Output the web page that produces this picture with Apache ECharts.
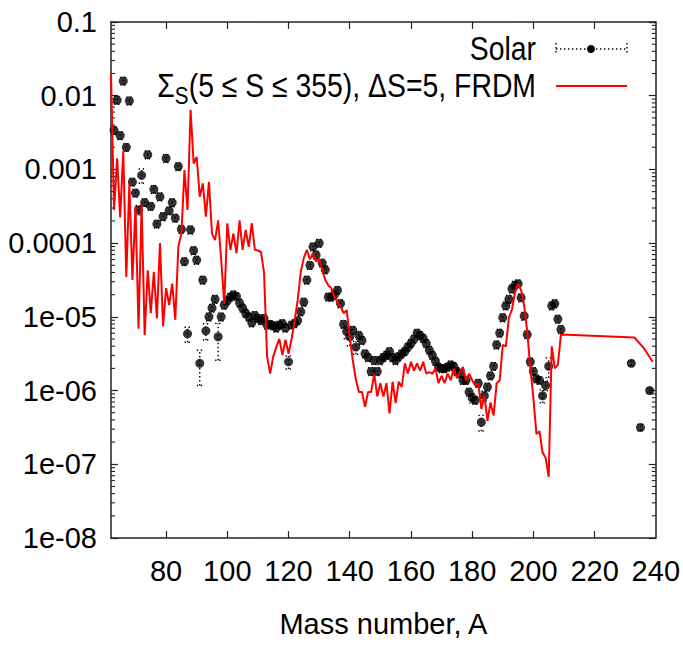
<!DOCTYPE html>
<html>
<head>
<meta charset="utf-8">
<script src="https://cdn.jsdelivr.net/npm/echarts@6/dist/echarts.min.js"></script>
<style>
  html, body { margin: 0; padding: 0; background: #fff; }
  #chart { width: 683px; height: 648px; }
</style>
</head>
<body>
<div id="chart"></div>
<script>
// ---- Solar r-process abundances: mass number, log10(Y), relative error ----
const solarA = [
  63,64,65,66,67,68,69,70,71,72,
  73,74,75,76,77,78,79,80,81,82,
  83,84,85,86,87,88,89,90,91,92,
  93,94,95,96,97,98,99,100,101,102,
  103,104,105,106,107,108,109,110,111,112,
  113,114,115,116,117,118,119,120,121,122,
  123,124,125,126,127,128,129,130,131,132,
  133,134,135,136,137,138,139,140,141,142,
  143,144,145,146,147,148,149,150,151,152,
  153,154,155,156,157,158,159,160,161,162,
  163,164,165,166,167,168,169,170,171,172,
  173,174,175,176,177,178,179,180,181,182,
  183,184,185,186,187,188,189,190,191,192,
  193,194,195,196,197,198,199,200,201,202,
  203,204,205,206,207,208,209,
  232,235,238
];
const solarLog = [
  -2.47,-2.06,-2.54,-1.80,-2.70,-2.07,-3.17,-3.32,-3.55,-3.08,
  -3.45,-2.80,-3.50,-3.27,-3.74,-3.37,-3.64,-2.85,-3.56,-3.45,
  -3.66,-2.96,-3.81,-4.25,-5.23,-3.82,-4.10,-4.23,-5.63,-4.50,
  -5.19,-5.00,-4.88,-4.76,-5.27,-5.00,-4.84,-4.78,-4.73,-4.70,
  -4.72,-4.81,-4.88,-4.95,-5.00,-5.08,-4.98,-5.02,-5.05,-5.02,
  -5.11,-5.10,-5.12,-5.15,-5.11,-5.09,-5.15,-5.61,-5.11,-5.09,
  -5.05,-4.93,-4.80,-4.50,-4.30,-4.05,-4.16,-4.00,-4.27,-4.36,
  -4.73,-4.73,-4.70,-4.64,-4.82,-5.10,-5.20,-5.27,-5.18,-5.41,
  -5.25,-5.32,-5.50,-5.55,-5.74,-5.59,-5.74,-5.59,-5.55,-5.52,
  -5.47,-5.55,-5.59,-5.54,-5.50,-5.47,-5.41,-5.36,-5.30,-5.22,
  -5.25,-5.29,-5.36,-5.45,-5.52,-5.60,-5.68,-5.70,-5.70,-5.68,
  -5.65,-5.67,-5.74,-5.77,-5.86,-5.86,-6.02,-6.10,-6.13,-5.90,
  -6.43,-6.07,-5.95,-5.80,-5.67,-5.38,-5.22,-5.01,-4.85,-4.76,
  -4.62,-4.57,-4.55,-4.74,-4.99,-5.24,-5.61,-5.74,-5.84,-5.86,
  -6.07,-5.93,-5.67,-4.85,-4.82,-5.03,-5.17,
  -5.63,-6.50,-6.00
];
const solarErr = [
  0.12,0.12,0.12,0.12,0.12,0.12,0.12,0.12,0.15,0.22,
  0.12,0.12,0.12,0.12,0.12,0.12,0.12,0.12,0.12,0.12,
  0.12,0.12,0.12,0.12,0.23,0.12,0.12,0.12,0.50,0.12,
  0.25,0.12,0.12,0.12,0.52,0.12,0.12,0.12,0.12,0.12,
  0.12,0.12,0.12,0.12,0.12,0.12,0.12,0.12,0.12,0.12,
  0.12,0.12,0.12,0.12,0.12,0.12,0.12,0.20,0.12,0.12,
  0.12,0.12,0.12,0.12,0.12,0.12,0.12,0.12,0.12,0.12,
  0.12,0.12,0.12,0.12,0.12,0.12,0.20,0.25,0.12,0.20,
  0.12,0.12,0.12,0.12,0.12,0.12,0.12,0.12,0.12,0.12,
  0.12,0.12,0.12,0.12,0.12,0.12,0.12,0.12,0.12,0.12,
  0.12,0.12,0.12,0.12,0.12,0.12,0.12,0.12,0.12,0.12,
  0.12,0.12,0.12,0.12,0.12,0.12,0.12,0.15,0.12,0.12,
  0.24,0.15,0.12,0.12,0.12,0.12,0.12,0.12,0.12,0.12,
  0.12,0.12,0.12,0.12,0.12,0.12,0.12,0.12,0.12,0.12,
  0.20,0.15,0.30,0.12,0.12,0.12,0.12,
  0.08,0.10,0.08
];

// ---- Summed FRDM calculation: mass number, log10(Y) ----
const frdmA = [
  62,63,64,65,66,67,68,69,70,71,
  72,73,74,75,76,77,78,79,80,81,
  82,83,84,85,86,87,88,89,90,91,
  92,93,94,95,96,97,98,99,100,101,
  102,103,104,105,106,107,108,109,110,111,
  112,113,114,115,116,117,118,119,120,121,
  122,123,124,125,126,127,128,129,130,131,
  132,133,134,135,136,137,138,139,140,141,
  142,143,144,145,146,147,148,149,150,151,
  152,153,154,155,156,157,158,159,160,161,
  162,163,164,165,166,167,168,169,170,171,
  172,173,174,175,176,177,178,179,180,181,
  182,183,184,185,186,187,188,189,190,191,
  192,193,194,195,196,197,198,199,200,201,
  202,203,204,205,206,207,208,209,
  233,236,239
];
const frdmLog = [
  -1.70,-3.55,-2.85,-3.65,-2.75,-4.46,-3.19,-4.50,-3.50,-5.16,
  -3.48,-5.25,-4.37,-4.95,-4.39,-5.02,-4.00,-5.13,-4.61,-4.84,
  -4.55,-5.04,-4.05,-3.87,-3.01,-3.55,-2.19,-2.92,-2.83,-3.37,
  -3.19,-3.64,-3.17,-3.87,-3.96,-3.69,-4.23,-4.82,-3.73,-4.09,
  -3.87,-4.14,-3.69,-4.09,-3.82,-4.05,-3.73,-4.09,-4.10,-4.12,
  -4.40,-5.54,-5.77,-5.54,-5.41,-5.30,-5.52,-5.31,-5.50,-5.30,
  -5.05,-4.77,-4.39,-4.20,-4.09,-4.22,-4.14,-4.25,-4.21,-4.35,
  -4.50,-4.57,-4.61,-4.73,-4.80,-4.86,-4.95,-4.91,-5.27,-5.59,
  -5.85,-6.02,-6.02,-6.22,-6.02,-6.02,-5.77,-6.08,-5.90,-6.08,
  -5.90,-6.31,-5.88,-6.17,-5.88,-5.95,-5.63,-5.77,-5.61,-5.73,
  -5.63,-5.73,-5.61,-5.77,-5.75,-5.77,-5.70,-5.90,-5.80,-5.90,
  -5.77,-5.86,-5.70,-5.83,-5.75,-5.68,-5.86,-5.77,-5.86,-5.93,
  -5.90,-6.25,-6.07,-6.41,-6.16,-6.34,-5.90,-5.86,-5.38,-5.40,
  -5.01,-4.90,-4.67,-4.55,-4.64,-4.85,-5.20,-5.70,-6.10,-6.59,
  -6.55,-6.84,-6.91,-7.17,-5.40,-5.70,-5.65,-5.24,
  -5.28,-5.42,-5.61
];

// ---- Axis ticks and labels ----
const xTickValues  = [80, 100, 120, 140, 160, 180, 200, 220, 240];
const yTickLabels  = ['1e-08', '1e-07', '1e-06', '1e-05', '0.0001', '0.001', '0.01', '0.1'];
const yMinExp = -8, yMaxExp = -1;
const xMin = 62, xMax = 240;

// ---- Key text ----
const keySolar = 'Solar';
const keyFrdmSigma = 'Σ';
const keyFrdmSub = 'S';
const keyFrdmRest = '(5 ≤ S ≤ 355), ΔS=5, FRDM';

// Prefer a condensed face when one is installed
const measureCtx = document.createElement('canvas').getContext('2d');
function hasFont(name) {
  const s = 'Mass number, A 0123456789';
  measureCtx.font = '40px monospace';
  const w0 = measureCtx.measureText(s).width;
  measureCtx.font = '40px "' + name + '", monospace';
  return Math.abs(measureCtx.measureText(s).width - w0) > 0.5;
}
const narrow = hasFont('Liberation Sans Narrow');
const FONT = narrow ? '"Liberation Sans Narrow", "Liberation Sans", Arial, sans-serif'
                    : '"Liberation Sans", Arial, sans-serif';
const FS = narrow ? 34 : 29;          // axis text
const LFS = narrow ? 34 : 33;         // key text
const SFS = Math.round(LFS * 0.72);   // key subscript
const LSX = narrow ? 1 : 0.86;        // key text horizontal squeeze
function textWidth(str, size) {
  measureCtx.font = size + 'px ' + FONT;
  return measureCtx.measureText(str).width * LSX;
}

const frame = { lineStyle: { color: '#222', width: 1.5 } };

const frdmData  = frdmA.map((a, i) => [a, Math.pow(10, frdmLog[i])]);
const solarData = solarA.map((a, i) => [a, Math.pow(10, solarLog[i])]);
const errData   = solarA.map((a, i) => {
  const y = Math.pow(10, solarLog[i]);
  return [a, y * (1 - solarErr[i]), y * (1 + solarErr[i])];
});

// Logarithmic minor ticks (2..9 per decade)
const minorData = [];
for (let e = yMinExp; e < yMaxExp; e++) {
  for (let m = 2; m <= 9; m++) minorData.push([xMin, m * Math.pow(10, e)]);
}

const chart = echarts.init(document.getElementById('chart'), null, { renderer: 'svg' });

const dotted = { stroke: '#000', lineWidth: 1.4, lineDash: [1.4, 2.6] };

// key placement
const keyRight = 536, row1 = 49, row2 = 86;
const restW = textWidth(keyFrdmRest, LFS);
const subW = textWidth(keyFrdmSub, SFS);
const keyText = (str, x, y, size) => ({
  type: 'text', x: x, y: y, scaleX: LSX,
  style: { text: str, align: 'right', verticalAlign: 'middle', fill: '#000', font: size + 'px ' + FONT }
});

chart.setOption({
  animation: false,
  backgroundColor: '#fff',
  grid: { left: 111, right: 27, top: 22, bottom: 110 },
  xAxis: [{
    type: 'value', min: xMin, max: xMax, position: 'bottom',
    axisLine: frame,
    splitLine: { show: false },
    axisTick: { inside: true, length: 7, customValues: xTickValues.slice(0, -1), lineStyle: { color: '#222', width: 1.2 } },
    axisLabel: { customValues: xTickValues, margin: 18, color: '#000', fontFamily: FONT, fontSize: FS },
    name: 'Mass number, A', nameLocation: 'middle', nameGap: 71,
    nameTextStyle: { color: '#000', fontFamily: FONT, fontSize: FS }
  }, {
    type: 'value', min: xMin, max: xMax, position: 'top',
    axisLine: frame,
    splitLine: { show: false },
    axisTick: { inside: true, length: 7, customValues: xTickValues.slice(0, -1), lineStyle: { color: '#222', width: 1.2 } },
    axisLabel: { show: false }
  }],
  yAxis: [{
    type: 'log', logBase: 10, min: Math.pow(10, yMinExp), max: Math.pow(10, yMaxExp),
    interval: 1, splitNumber: 7, position: 'left',
    axisLine: frame,
    splitLine: { show: false },
    axisTick: { inside: true, length: 7, lineStyle: { color: '#222', width: 1.2 } },
    axisLabel: {
      margin: 14, color: '#000', fontFamily: FONT, fontSize: FS,
      formatter: v => yTickLabels[Math.round(Math.log10(v)) - yMinExp]
    }
  }, {
    type: 'log', logBase: 10, min: Math.pow(10, yMinExp), max: Math.pow(10, yMaxExp),
    interval: 1, splitNumber: 7, position: 'right',
    axisLine: frame,
    splitLine: { show: false },
    axisTick: { inside: true, length: 7, lineStyle: { color: '#222', width: 1.2 } },
    axisLabel: { show: false }
  }],
  series: [
    {
      name: 'minor ticks', type: 'custom', silent: true, clip: false,
      data: minorData,
      renderItem: (params, api) => {
        const l = api.coord([xMin, api.value(1)]);
        const r = api.coord([xMax, api.value(1)]);
        const st = { stroke: '#222', lineWidth: 1.1 };
        return { type: 'group', children: [
          { type: 'line', shape: { x1: l[0], y1: l[1], x2: l[0] + 4, y2: l[1] }, style: st },
          { type: 'line', shape: { x1: r[0], y1: r[1], x2: r[0] - 4, y2: r[1] }, style: st }
        ] };
      }
    },
    {
      name: 'Solar errors', type: 'custom', silent: true, z: 3,
      data: errData,
      renderItem: (params, api) => {
        const lo = api.coord([api.value(0), api.value(1)]);
        const hi = api.coord([api.value(0), api.value(2)]);
        const w = 3;
        return { type: 'group', children: [
          { type: 'line', shape: { x1: lo[0], y1: lo[1], x2: hi[0], y2: hi[1] }, style: dotted },
          { type: 'line', shape: { x1: lo[0] - w, y1: lo[1], x2: lo[0] + w, y2: lo[1] }, style: dotted },
          { type: 'line', shape: { x1: hi[0] - w, y1: hi[1], x2: hi[0] + w, y2: hi[1] }, style: dotted }
        ] };
      }
    },
    {
      name: 'Solar', type: 'scatter', z: 4,
      data: solarData, symbol: 'circle', symbolSize: 9,
      itemStyle: { color: '#000' }
    },
    {
      name: 'FRDM', type: 'line', z: 5,
      data: frdmData, showSymbol: false, symbol: 'none',
      lineStyle: { color: '#ff0000', width: 2 }
    }
  ],
  graphic: [
    keyText(keySolar, keyRight, row1, LFS),
    { type: 'line', shape: { x1: 556, y1: row1, x2: 627, y2: row1 }, style: dotted },
    { type: 'line', shape: { x1: 556, y1: row1 - 6, x2: 556, y2: row1 + 6 }, style: dotted },
    { type: 'line', shape: { x1: 627, y1: row1 - 6, x2: 627, y2: row1 + 6 }, style: dotted },
    { type: 'circle', shape: { cx: 591, cy: row1, r: 4 }, style: { fill: '#000' } },
    keyText(keyFrdmRest, keyRight, row2, LFS),
    keyText(keyFrdmSub, keyRight - restW, row2 + 10, SFS),
    keyText(keyFrdmSigma, keyRight - restW - subW, row2, LFS),
    { type: 'line', shape: { x1: 556, y1: row2, x2: 627, y2: row2 }, style: { stroke: '#ff0000', lineWidth: 2 } }
  ]
});
</script>
</body>
</html>
